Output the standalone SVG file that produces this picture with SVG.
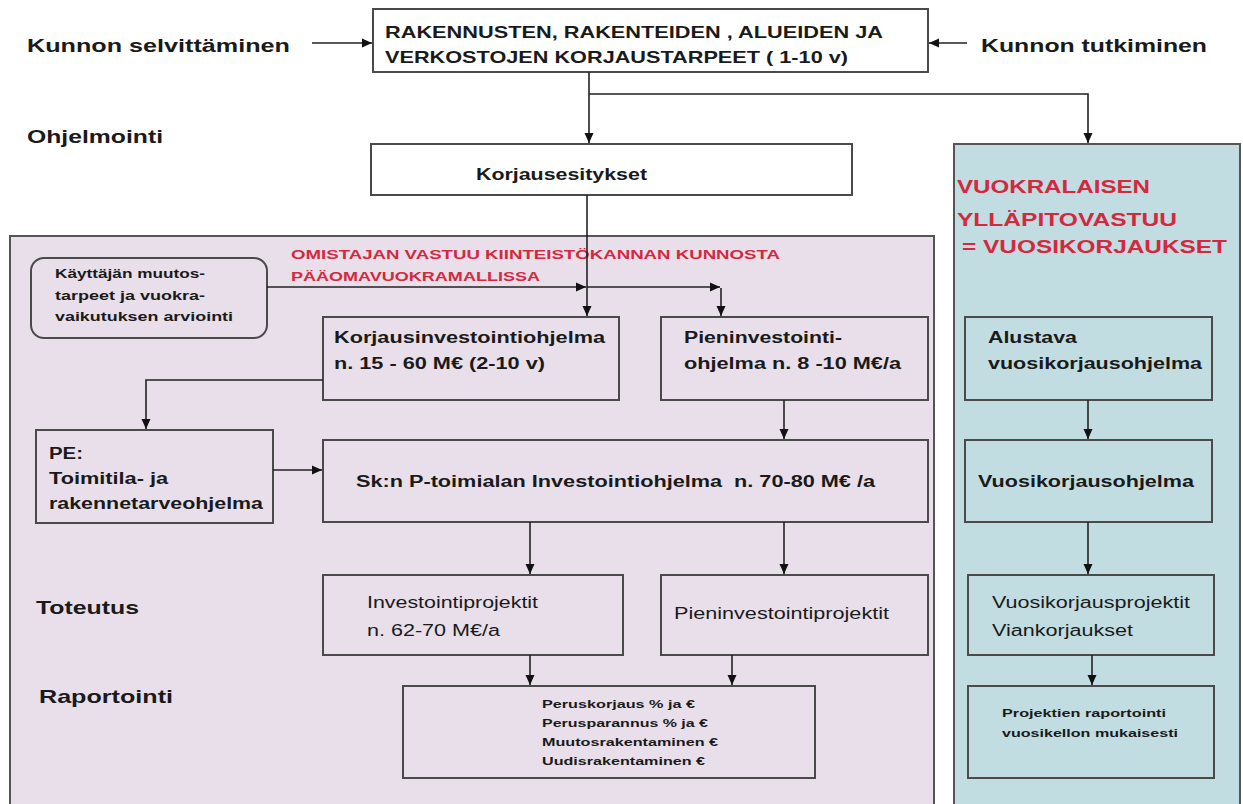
<svg xmlns="http://www.w3.org/2000/svg" width="1243" height="804" viewBox="0 0 1243 804">
<defs>
<marker id="ah" markerUnits="userSpaceOnUse" markerWidth="10" markerHeight="10" refX="10" refY="5" orient="auto">
<path d="M0,0.5 L10,5 L0,9.5 z" fill="#111"/>
</marker>
<style>
text{font-family:"Liberation Sans",Arial,sans-serif;fill:#1a1a1a;white-space:pre}
.b{font-weight:bold}
.lbl{font-size:19px;font-weight:bold}
.box{fill:none;stroke:#4a4a4a;stroke-width:2}
.wbox{fill:#fff;stroke:#4a4a4a;stroke-width:2}
.t15{font-size:16px;font-weight:bold}
.r15{font-size:16px}
.s11{font-size:11.5px;font-weight:bold}
.red{fill:#d4283e;font-weight:bold}
.c{fill:none;stroke:#222;stroke-width:1.6}
</style>
</defs>
<rect width="1243" height="804" fill="#fff"/>

<g id="panel-owner">
<rect x="10" y="236" width="924" height="580" fill="#e8dfea" stroke="#555" stroke-width="2"/>
<text class="red" x="291" y="259" font-size="13" textLength="489" lengthAdjust="spacingAndGlyphs">OMISTAJAN VASTUU KIINTEISTÖKANNAN KUNNOSTA</text>
<text class="red" x="291" y="281" font-size="13" textLength="249" lengthAdjust="spacingAndGlyphs">PÄÄOMAVUOKRAMALLISSA</text>
</g>
<g id="panel-tenant">
<rect x="954" y="144" width="286" height="672" fill="#c2dde1" stroke="#555" stroke-width="2"/>
<text class="red" x="957" y="193" font-size="18.5" textLength="193" lengthAdjust="spacingAndGlyphs">VUOKRALAISEN</text>
<text class="red" x="957" y="226" font-size="18.5" textLength="220" lengthAdjust="spacingAndGlyphs">YLLÄPITOVASTUU</text>
<text class="red" x="962" y="253" font-size="18.5" textLength="265" lengthAdjust="spacingAndGlyphs">= VUOSIKORJAUKSET</text>
</g>

<g id="labels">
<text class="lbl" x="27" y="52" textLength="263" lengthAdjust="spacingAndGlyphs">Kunnon selvittäminen</text>
<text class="lbl" x="981" y="52" textLength="226" lengthAdjust="spacingAndGlyphs">Kunnon tutkiminen</text>
<text class="lbl" x="27" y="143" textLength="136" lengthAdjust="spacingAndGlyphs">Ohjelmointi</text>
<text class="lbl" x="36" y="614" textLength="103" lengthAdjust="spacingAndGlyphs">Toteutus</text>
<text class="lbl" x="39" y="703" textLength="134" lengthAdjust="spacingAndGlyphs">Raportointi</text>
</g>

<g id="node-korjaustarpeet">
<rect class="wbox" x="373" y="9" width="555" height="63"/>
<text class="b" font-size="16.5" x="385" y="38" textLength="498" lengthAdjust="spacingAndGlyphs">RAKENNUSTEN, RAKENTEIDEN , ALUEIDEN JA</text>
<text class="b" font-size="16.5" x="385" y="63" textLength="463" lengthAdjust="spacingAndGlyphs">VERKOSTOJEN KORJAUSTARPEET ( 1-10 v)</text>
</g>
<g id="node-korjausesitykset">
<rect class="wbox" x="371" y="144" width="481" height="51"/>
<text class="t15" x="476" y="180" textLength="171" lengthAdjust="spacingAndGlyphs">Korjausesitykset</text>
</g>
<g id="node-kayttaja">
<rect class="box" x="31" y="258" width="236" height="80" rx="13"/>
<text class="b" font-size="12" x="55" y="278" textLength="150" lengthAdjust="spacingAndGlyphs">Käyttäjän muutos-</text>
<text class="b" font-size="12" x="55" y="300" textLength="150" lengthAdjust="spacingAndGlyphs">tarpeet ja vuokra-</text>
<text class="b" font-size="12" x="55" y="321" textLength="178" lengthAdjust="spacingAndGlyphs">vaikutuksen arviointi</text>
</g>
<g id="node-korjausinvestointi">
<rect class="box" x="323" y="317" width="296" height="83"/>
<text class="t15" x="334" y="343" textLength="271" lengthAdjust="spacingAndGlyphs">Korjausinvestointiohjelma</text>
<text class="t15" x="334" y="369" textLength="211" lengthAdjust="spacingAndGlyphs">n. 15 - 60 M€ (2-10 v)</text>
</g>
<g id="node-pieninvestointi">
<rect class="box" x="661" y="317" width="267" height="83"/>
<text class="t15" x="684" y="343" textLength="158" lengthAdjust="spacingAndGlyphs">Pieninvestointi-</text>
<text class="t15" x="684" y="369" textLength="217" lengthAdjust="spacingAndGlyphs">ohjelma n. 8 -10 M€/a</text>
</g>
<g id="node-pe">
<rect class="box" x="36" y="430" width="237" height="93"/>
<text class="t15" x="49" y="459" textLength="34" lengthAdjust="spacingAndGlyphs">PE:</text>
<text class="t15" x="49" y="484" textLength="119" lengthAdjust="spacingAndGlyphs">Toimitila- ja</text>
<text class="t15" x="49" y="509" textLength="214" lengthAdjust="spacingAndGlyphs">rakennetarveohjelma</text>
</g>
<g id="node-skn">
<rect class="box" x="323" y="440" width="605" height="82"/>
<text class="t15" x="356" y="487" textLength="519" lengthAdjust="spacingAndGlyphs">Sk:n P-toimialan Investointiohjelma  n. 70-80 M€ /a</text>
</g>
<g id="node-investointiprojektit">
<rect class="box" x="323" y="575" width="300" height="80"/>
<text class="r15" x="367" y="608" textLength="171" lengthAdjust="spacingAndGlyphs">Investointiprojektit</text>
<text class="r15" x="367" y="636" textLength="133" lengthAdjust="spacingAndGlyphs">n. 62-70 M€/a</text>
</g>
<g id="node-pieninvestointiprojektit">
<rect class="box" x="661" y="575" width="267" height="80"/>
<text class="r15" x="674" y="619" textLength="215" lengthAdjust="spacingAndGlyphs">Pieninvestointiprojektit</text>
</g>
<g id="node-raportointi">
<rect class="box" x="403" y="686" width="412" height="92"/>
<text class="s11" x="542" y="708" textLength="153" lengthAdjust="spacingAndGlyphs">Peruskorjaus % ja €</text>
<text class="s11" x="542" y="727" textLength="166" lengthAdjust="spacingAndGlyphs">Perusparannus % ja €</text>
<text class="s11" x="542" y="746" textLength="176" lengthAdjust="spacingAndGlyphs">Muutosrakentaminen €</text>
<text class="s11" x="542" y="765" textLength="163" lengthAdjust="spacingAndGlyphs">Uudisrakentaminen €</text>
</g>
<g id="node-alustava">
<rect class="box" x="965" y="317" width="247" height="83"/>
<text class="t15" x="988" y="343" textLength="89" lengthAdjust="spacingAndGlyphs">Alustava</text>
<text class="t15" x="988" y="369" textLength="214" lengthAdjust="spacingAndGlyphs">vuosikorjausohjelma</text>
</g>
<g id="node-vuosikorjausohjelma">
<rect class="box" x="965" y="440" width="247" height="82"/>
<text class="t15" x="978" y="487" textLength="216" lengthAdjust="spacingAndGlyphs">Vuosikorjausohjelma</text>
</g>
<g id="node-vuosikorjausprojektit">
<rect class="box" x="968" y="575" width="246" height="80"/>
<text class="r15" x="992" y="608" textLength="198" lengthAdjust="spacingAndGlyphs">Vuosikorjausprojektit</text>
<text class="r15" x="992" y="636" textLength="141" lengthAdjust="spacingAndGlyphs">Viankorjaukset</text>
</g>
<g id="node-projektien-raportointi">
<rect class="box" x="968" y="686" width="246" height="92"/>
<text class="s11" x="1002" y="717" textLength="164" lengthAdjust="spacingAndGlyphs">Projektien raportointi</text>
<text class="s11" x="1002" y="737" textLength="176" lengthAdjust="spacingAndGlyphs">vuosikellon mukaisesti</text>
</g>

<g id="connectors">
<line class="c" x1="312" y1="43" x2="372" y2="43" marker-end="url(#ah)"/>
<line class="c" x1="967" y1="43" x2="929" y2="43" marker-end="url(#ah)"/>
<line class="c" x1="589" y1="72" x2="589" y2="143" marker-end="url(#ah)"/>
<polyline class="c" points="589,94 1088,94 1088,143" marker-end="url(#ah)"/>
<line class="c" x1="587" y1="195" x2="587" y2="316" marker-end="url(#ah)"/>
<line class="c" x1="267" y1="287" x2="586" y2="287" marker-end="url(#ah)"/>
<line class="c" x1="587" y1="287" x2="720" y2="287" marker-end="url(#ah)"/>
<line class="c" x1="721" y1="288" x2="721" y2="316" marker-end="url(#ah)"/>
<polyline class="c" points="323,380 146,380 146,429" marker-end="url(#ah)"/>
<line class="c" x1="273" y1="470" x2="322" y2="470" marker-end="url(#ah)"/>
<line class="c" x1="784" y1="400" x2="784" y2="439" marker-end="url(#ah)"/>
<line class="c" x1="530" y1="522" x2="530" y2="574" marker-end="url(#ah)"/>
<line class="c" x1="784" y1="522" x2="784" y2="574" marker-end="url(#ah)"/>
<line class="c" x1="530" y1="655" x2="530" y2="685" marker-end="url(#ah)"/>
<line class="c" x1="732" y1="655" x2="732" y2="685" marker-end="url(#ah)"/>
<line class="c" x1="1088" y1="400" x2="1088" y2="439" marker-end="url(#ah)"/>
<line class="c" x1="1088" y1="522" x2="1088" y2="574" marker-end="url(#ah)"/>
<line class="c" x1="1092" y1="655" x2="1092" y2="685" marker-end="url(#ah)"/>
</g>
</svg>
